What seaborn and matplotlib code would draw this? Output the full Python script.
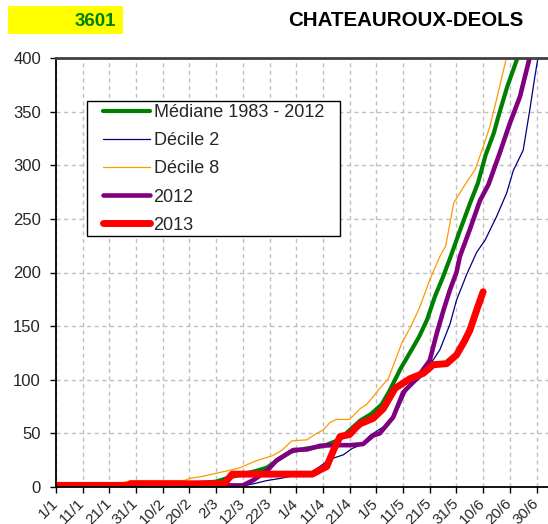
import numpy as np
import pandas as pd
import matplotlib
matplotlib.use("Agg")
import matplotlib.pyplot as plt
import seaborn as sns
from matplotlib.patches import Rectangle

# jours depuis le 1er janvier -> cumul
median_days = [0, 20, 40, 55, 60, 65, 70, 75, 79, 83, 88, 94, 100, 106, 110, 114, 118, 122, 125, 129,
               133, 136, 139, 142, 145, 148, 151, 155, 158, 161, 164, 166, 169, 173]
median_vals = [0, 1, 2, 4, 5, 9, 12, 15, 18, 25, 33, 36, 38, 44, 53, 62, 68, 77, 90, 110,
               127, 140, 156, 178, 196, 216, 237, 264, 283, 310, 330, 348, 373, 401]

d2_days = [0, 70, 74, 79, 84, 90, 95, 97.6, 101.4, 104, 107.6, 111, 114, 117.6, 122.6, 127.6, 131.3,
           137.6, 143.8, 147.6, 150, 153.8, 157.6, 160.7, 165, 168.8, 171.3, 175, 177.5, 179.4, 180.6]
d2_vals = [0, 1, 3, 6, 8, 11, 11, 17, 23.6, 27, 30, 36, 39, 48, 56, 70, 90,
           104.5, 128, 152, 174, 198, 219, 230, 252, 274, 295, 314, 352, 383, 401]

d8_days = [0, 20, 22, 28, 48, 50, 55, 64, 69, 74.5, 79.5, 81, 84.5, 88.3, 94, 97.6, 100, 102.6, 105,
           110, 113.9, 116.4, 121.3, 124.5, 129.5, 133, 136.3, 140, 143.8, 146, 149, 153, 157, 160,
           162.5, 165, 168.8]
d8_vals = [0, 1, 2, 6, 6, 8, 10, 15, 18, 24, 28, 29, 34, 43, 44, 50, 53, 60, 63,
           63, 73, 77, 92, 101, 134, 150, 168, 193, 215, 225, 265, 281, 296, 317,
           336, 361, 401]

y2012_days = [0, 70, 74, 79, 82.7, 88.9, 94, 99, 104, 110, 115, 118.8, 121.3, 126.3, 130, 135, 140,
              142.6, 145.3, 147.6, 150, 151.3, 155, 158.8, 162, 166.3, 170, 173.8, 176.3, 177.5]
y2012_vals = [1.5, 1.5, 6.5, 15, 25, 34.5, 35, 38.5, 39, 39, 40, 48, 50, 65, 88, 101, 118,
              143, 166, 184, 200, 215, 240, 267, 282, 312, 339, 364, 389, 401]

y2013_days = [0, 27, 28, 63, 66, 96, 99, 101.4, 104, 106.4, 110, 112.6, 114, 118.8, 122.6, 127, 132.6,
              137.6, 141.3, 146.3, 150, 153, 155, 158, 160]
y2013_vals = [1.5, 1.5, 3, 3, 12, 12, 16, 19, 34.5, 47, 49, 56, 59, 64, 73, 92, 101,
              106, 114, 115, 123, 136, 146, 168, 182]

tick_days = list(range(0, 181, 10))
tick_labels = ['1/1', '11/1', '21/1', '31/1', '10/2', '20/2', '2/3', '12/3', '22/3', '1/4',
               '11/4', '21/4', '1/5', '11/5', '21/5', '31/5', '10/6', '20/6', '30/6']

sns.set_style("white")
plt.rcParams['font.family'] = ['Liberation Sans', 'DejaVu Sans']

fig = plt.figure(figsize=(5.48, 5.24), dpi=100)
ax = fig.add_axes([56 / 548, 1 - 487 / 524, 1 - 56 / 548, (487 - 58) / 524])

series = [
    (median_days, median_vals, '#008000', 3.0, 'Médiane 1983 - 2012'),
    (d2_days, d2_vals, '#000080', 0.9, 'Décile 2'),
    (d8_days, d8_vals, '#FF9900', 0.9, 'Décile 8'),
    (y2012_days, y2012_vals, '#800080', 3.3, '2012'),
    (y2013_days, y2013_vals, '#FF0000', 5.0, '2013'),
]
for days, vals, col, lw, lab in series:
    df = pd.DataFrame({'jour': days, 'cumul': vals})
    sns.lineplot(data=df, x='jour', y='cumul', color=col, lw=lw, label=lab,
                 estimator=None, sort=False, ax=ax, solid_capstyle='round')

ax.set_xlim(0, 184.3)
ax.set_ylim(0, 400)
ax.set_yticks(range(0, 401, 50))
ax.set_xticks(tick_days)
ax.set_xticklabels(tick_labels, rotation=45, ha='right', va='center', rotation_mode='anchor')
ax.set_xlabel('')
ax.set_ylabel('')
ax.tick_params(axis='both', direction='out', length=4.3, width=1, color='black',
               bottom=True, left=True)
ax.tick_params(axis='y', labelsize=12, pad=6.5)
ax.tick_params(axis='x', labelsize=11, pad=6)

ax.grid(True, color='#c0c0c0', linestyle=(0, (3, 2.5)), lw=1)
ax.set_axisbelow(True)
ax.spines['right'].set_visible(False)
ax.spines['top'].set_color('#404040')
ax.spines['top'].set_linewidth(2)
ax.spines['left'].set_color('black')
ax.spines['bottom'].set_color('black')
ax.spines['left'].set_linewidth(1.3)
ax.spines['bottom'].set_linewidth(1.3)

# cadre de légende dessiné à part pour retrouver les marges d'Excel
ax.add_patch(Rectangle((31 / 492, 251.3 / 429), 253 / 492, 135 / 429, transform=ax.transAxes,
                       facecolor='white', edgecolor='black', lw=1, zorder=4.9, clip_on=False))
leg = ax.legend(loc='upper left', bbox_to_anchor=(47 / 492, 383 / 429), borderaxespad=0,
                fontsize=13, handlelength=2.6, labelspacing=0.62, handletextpad=0.2,
                borderpad=0, frameon=False)

fig.patches.append(Rectangle((8 / 548, 1 - 34 / 524), 115 / 548, 28 / 524,
                             transform=fig.transFigure, facecolor='#FFFF00', edgecolor='none'))
fig.text(116 / 548, 1 - 21 / 524, '3601', ha='right', va='center', fontsize=13.5,
         weight='bold', color='#008000')
fig.text(406 / 548, 1 - 21 / 524, 'CHATEAUROUX-DEOLS', ha='center', va='center',
         fontsize=14.8, weight='bold', color='black')

fig.savefig('out.png', dpi=100)
